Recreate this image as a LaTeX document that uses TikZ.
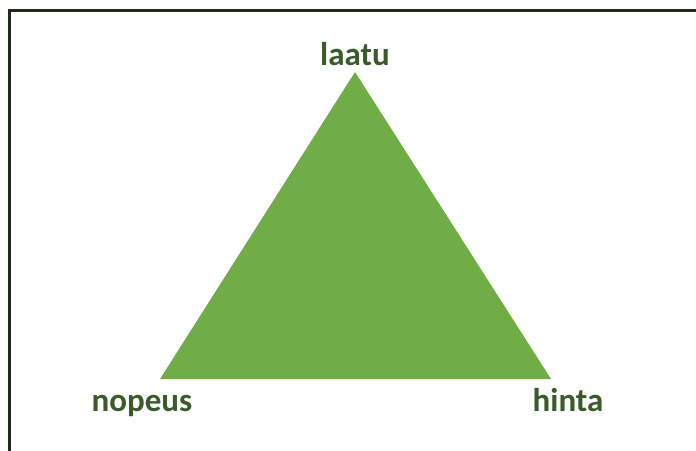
\documentclass[tikz,border=0pt]{standalone}
\usepackage{fontspec}
\setmainfont{Carlito}
\definecolor{trifill}{HTML}{70AD47}
\definecolor{labelcol}{HTML}{3B5B2A}
\definecolor{framecol}{HTML}{1E2A1A}
\tikzset{
  lbl/.style={text=labelcol, font=\fontsize{33}{36}\selectfont\bfseries, inner sep=0pt, anchor=base},
  tri/.style={fill=trifill, draw=none}
}
\begin{document}
\begin{tikzpicture}[x=1pt,y=1pt]
\useasboundingbox (0,0) rectangle (696,450);
\fill[white] (0,0) rectangle (696,450);
\begin{scope}
\clip (0,0) rectangle (696,450);
\draw[framecol, line width=3pt] (9.5,-20) -- (9.5,439) -- (720,439);
\end{scope}
\coordinate (top) at (355,378);
\coordinate (bl) at (160,71);
\coordinate (br) at (551,71);
\fill[tri] (top) -- (bl) -- (br) -- cycle;
\node[lbl] (laatu) at (355,384) {laatu};
\node[lbl] (nopeus) at (142,39) {nopeus};
\node[lbl] (hinta) at (568,39) {hinta};
\end{tikzpicture}
\end{document}
